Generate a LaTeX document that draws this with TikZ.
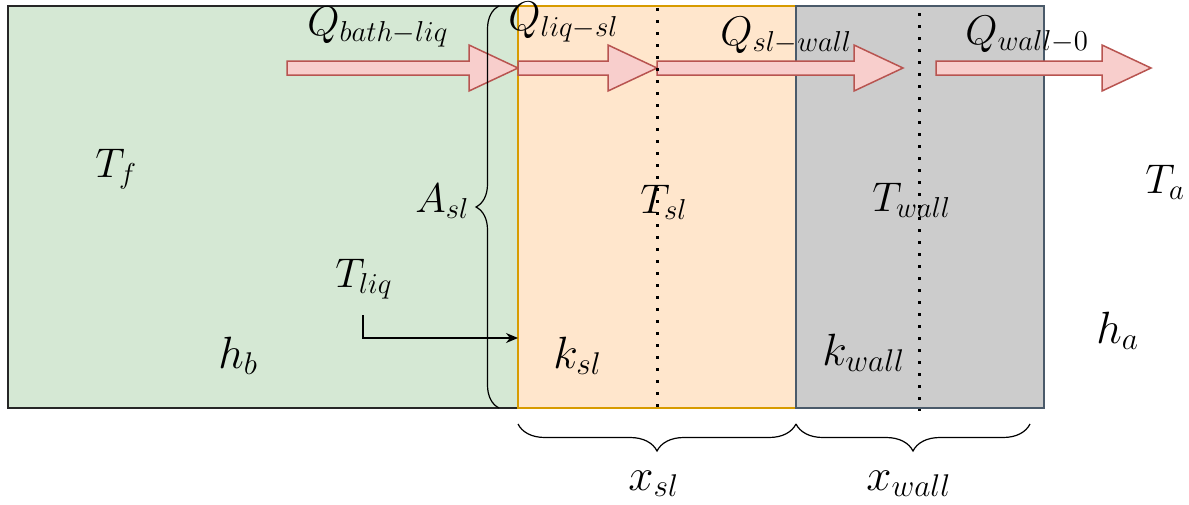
\documentclass[tikz,border=0pt]{standalone}
\usepackage{graphicx}
\usetikzlibrary{decorations.pathreplacing,arrows.meta}
\definecolor{greenfill}{HTML}{D5E8D4}
\definecolor{orangefill}{HTML}{FFE6CC}
\definecolor{orangeline}{HTML}{D79B00}
\definecolor{grayfill}{HTML}{CCCCCC}
\definecolor{grayline}{HTML}{4A5A6A}
\definecolor{redfill}{HTML}{F8CECC}
\definecolor{redline}{HTML}{B85450}
\newcommand\blockarr[3]{%
  \draw[blockarrow] (#1,61)--(#2,61)--(#2,45)--(#3,68)--(#2,91)--(#2,75)--(#1,75)--cycle;}
\newcommand\largermath[1]{\scalebox{1.09}{$#1$}}
\begin{document}
\begin{tikzpicture}[x=0.5pt,y=-0.5pt,
  lbl/.style={inner sep=0pt,anchor=base west,font=\fontsize{20.74}{25}\selectfont},
  layer/.style={line width=0.75pt},
  blockarrow/.style={fill=redfill,draw=redline,line width=0.75pt,line join=miter},
  dotline/.style={line width=1.5pt,dash pattern=on 1.5pt off 4.5pt},
  bracestyle/.style={draw,line width=0.6pt,decorate},
  conn/.style={line width=0.6pt,-{Stealth[length=6pt,width=5pt]}}]
\useasboundingbox (0,0) rectangle (1189,504);
% layers
\filldraw[layer,fill=greenfill,draw=black!85] (8,6) rectangle (518,408);
\filldraw[layer,fill=orangefill,draw=orangeline] (518,6) rectangle (796,408);
\filldraw[layer,fill=grayfill,draw=grayline] (796,6) rectangle (1044,408);
% block arrows
\blockarr{287}{469}{518}
\blockarr{518}{608}{657}
\blockarr{657}{854}{903}
\blockarr{936}{1102}{1151}
% dotted lines
\coordinate (d1a) at (657,8);
\coordinate (d1b) at (657,407);
\coordinate (d2a) at (919,13);
\coordinate (d2b) at (919,411);
\draw[dotline] (d1a) -- (d1b);
\draw[dotline] (d2a) -- (d2b);
% A_sl brace
\coordinate (ba) at (499,408);
\coordinate (bb) at (499,6);
\draw[bracestyle,decoration={brace,amplitude=11.5pt}] (ba) -- (bb);
% bottom braces
\coordinate (x1a) at (518,424);
\coordinate (x1b) at (796,424);
\coordinate (x2b) at (1030,424);
\draw[bracestyle,decoration={brace,amplitude=13.5pt}] (x1b) -- (x1a);
\draw[bracestyle,decoration={brace,amplitude=13.5pt}] (x2b) -- (x1b);
% labels
\node[lbl] (Qbl) at (307,35) {$Q_{bath-liq}$};
\node[lbl] (Qls) at (508,30) {$Q_{liq-sl}$};
\node[lbl] (Qsw) at (720,45) {$Q_{sl-wall}$};
\node[lbl] (Qw0) at (965,44) {$Q_{wall-0}$};
\node[lbl] (Tf) at (95,177) {$T_f$};
\node[lbl] (Asl) at (415,212) {$A_{sl}$};
\node[lbl] (Tliq) at (335,287) {$T_{liq}$};
\node[lbl] (Tsl) at (640,213) {$T_{sl}$};
\node[lbl] (Twall) at (872,211) {$T_{wall}$};
\node[lbl] (Ta) at (1145,193) {$T_a$};
\node[lbl] (hb) at (218,368) {\largermath{h_b}};
\node[lbl] (ksl) at (553,368) {\largermath{k_{sl}}};
\node[lbl] (kwall) at (822,365) {\largermath{k_{wall}}};
\node[lbl] (ha) at (1096,343) {\largermath{h_a}};
\node[lbl] (xsl) at (628,490) {\largermath{x_{sl}}};
\node[lbl] (xwall) at (866,490) {\largermath{x_{wall}}};
% T_liq connector
\coordinate (tls) at (363,315);
\coordinate (tle) at (518,338);
\draw[conn] (tls) |- (tle);
\end{tikzpicture}
\end{document}
